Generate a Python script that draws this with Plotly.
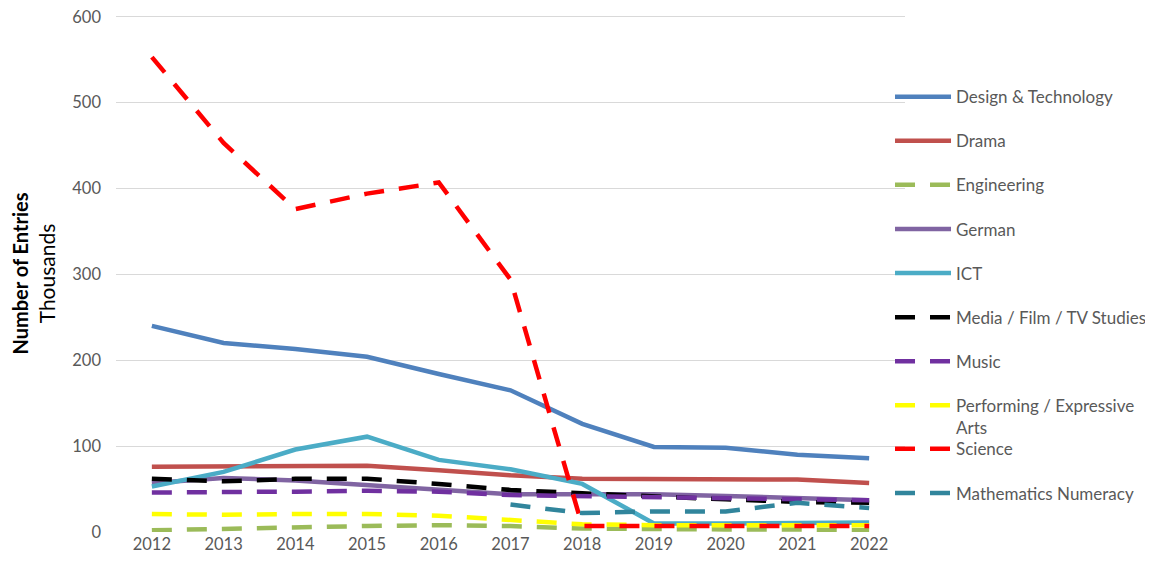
import plotly.graph_objects as go

years = ["2012", "2013", "2014", "2015", "2016", "2017", "2018", "2019", "2020", "2021", "2022"]

design_technology = [240, 220, 213, 204, 184, 165, 126, 99, 98, 90, 86]
drama = [76, 76, 77, 77, 72, 66, 62, 62, 62, 61, 57]
engineering = [2, 4, 6, 7, 8, 7, 4, 3, 3, 3, 2]
german = [57, 63, 60, 55, 50, 44, 44, 44, 42, 39, 37]
ict = [53, 70, 96, 111, 84, 73, 56, 10, 10, 11, 11]
media = [62, 59, 62, 62, 56, 49, 45, 41, 38, 35, 34]
music = [46, 46, 47, 48, 47, 43, 42, 41, 40, 39, 37]
performing = [21, 20, 21, 21, 19, 14, 9, 8, 8, 8, 8]
science = [553, 453, 376, 394, 407, 294, 7, 7, 7, 7, 7]
maths_numeracy = [None, None, None, None, None, 32, 22, 24, 24, 34, 28]

series = [
    ("Design & Technology", design_technology, "#4F81BD", "solid", "legend"),
    ("Drama", drama, "#C0504D", "solid", "legend"),
    ("Engineering", engineering, "#9BBB59", "dash", "legend"),
    ("German", german, "#8064A2", "solid", "legend"),
    ("ICT", ict, "#4BACC6", "solid", "legend"),
    ("Media / Film / TV Studies", media, "#000000", "dash", "legend"),
    ("Music", music, "#7030A0", "dash", "legend"),
    ("Performing / Expressive<br>Arts", performing, "#FFFF00", "dash", "legend"),
    ("Science", science, "#FF0000", "dash", "legend2"),
    ("Mathematics Numeracy", maths_numeracy, "#31859C", "dash", "legend2"),
]

fig = go.Figure()
for i, (name, vals, color, style, leg) in enumerate(series):
    dash = "solid" if style == "solid" else "20px,15px"
    fig.add_trace(go.Scatter(
        x=years, y=vals, name=name, mode="lines",
        line=dict(color=color, width=4.5, dash=dash),
        legendgroup=f"g{i}", legend=leg,
    ))

font_family = "Lato, Open Sans, sans-serif"
grey = "#595959"

leg_common = dict(x=0.981, xanchor="left", yanchor="top",
                  tracegroupgap=19, valign="top", bgcolor="rgba(0,0,0,0)",
                  font=dict(size=17, color=grey), itemwidth=56)

fig.update_layout(
    width=1153, height=566,
    margin=dict(l=108, r=256, t=7, b=42, autoexpand=False),
    paper_bgcolor="white", plot_bgcolor="white",
    font=dict(family=font_family, size=16.5, color=grey),
    xaxis=dict(type="category", range=[-0.5, 10.5], showgrid=False, zeroline=False,
               showline=False, tickfont=dict(size=16.5, color=grey), ticks=""),
    yaxis=dict(range=[0, 602], tickvals=[0, 100, 200, 300, 400, 500, 600],
               showgrid=True, gridcolor="#D9D9D9", gridwidth=1.3,
               zeroline=False, showline=False, tickfont=dict(size=16.5, color=grey),
               ticklabelstandoff=14, ticklabeloverflow="allow",
               title=dict(text="<b><span style='font-size:20px'>Number of Entries</span></b><br>Thousands",
                          font=dict(size=21, color="black"), standoff=18)),
    legend=dict(y=0.876, **leg_common),
    legend2=dict(y=0.1948, **leg_common),
)

fig.write_html("out.html")
